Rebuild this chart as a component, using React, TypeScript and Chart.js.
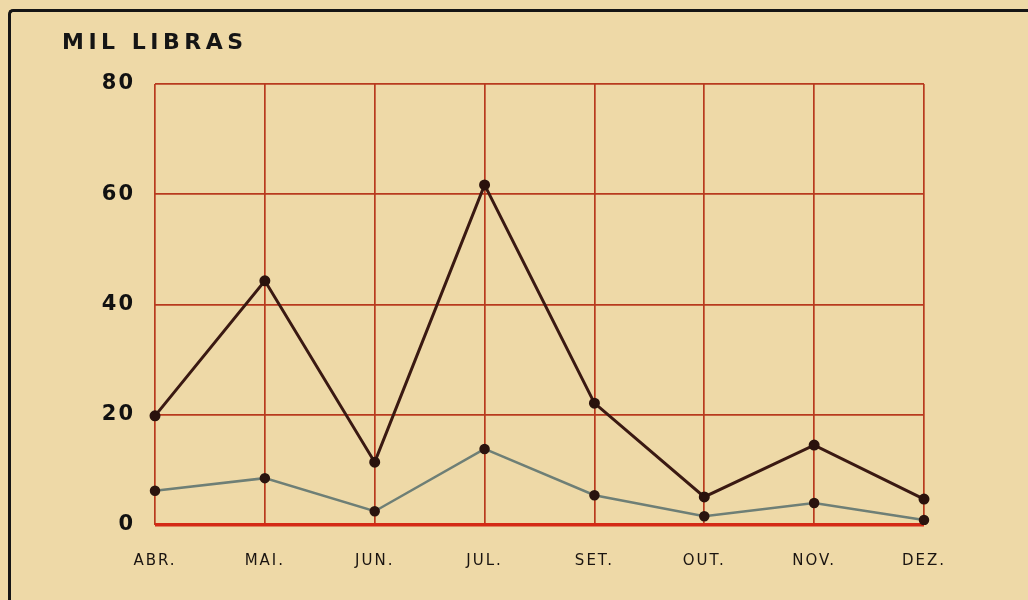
import React, { useEffect, useRef } from "react";
import { Chart, registerables } from "chart.js";

Chart.register(...registerables);

const months = ["ABR.", "MAI.", "JUN.", "JUL.", "SET.", "OUT.", "NOV.", "DEZ."];
const darkSeries = [19.8, 44.3, 11.4, 61.7, 22.1, 5.1, 14.5, 4.7];
const graySeries = [6.2, 8.5, 2.5, 13.8, 5.4, 1.6, 4.0, 0.9];
const yTicks = [0, 20, 40, 60, 80];
const yTitle = "MIL LIBRAS";

const spacingPlugin = {
  id: "letterSpacing",
  beforeDraw(chart: any) {
    chart.ctx.letterSpacing = "2px";
  },
  afterDraw(chart: any) {
    chart.ctx.letterSpacing = "0px";
  },
};

export default function App() {
  const ref = useRef<HTMLCanvasElement | null>(null);

  useEffect(() => {
    if (!ref.current) return;
    const chart = new Chart(ref.current, {
      type: "line",
      data: {
        labels: months,
        datasets: [
          {
            data: darkSeries,
            borderColor: "#3a1912",
            borderWidth: 3,
            pointRadius: 4,
            pointBackgroundColor: "#2a120d",
            pointBorderColor: "#2a120d",
            tension: 0,
          },
          {
            data: graySeries,
            borderColor: "#6e7f76",
            borderWidth: 2.5,
            pointRadius: 4,
            pointBackgroundColor: "#2a140f",
            pointBorderColor: "#2a140f",
            tension: 0,
          },
        ],
      },
      options: {
        animation: false,
        responsive: false,
        layout: { padding: { top: 84, right: 104, bottom: 0, left: 0 } },
        plugins: { legend: { display: false }, tooltip: { enabled: false }, title: { display: false } },
        scales: {
          x: {
            offset: false,
            border: { display: false },
            grid: { color: "#b83a1e", lineWidth: 1.7, drawTicks: false },
            ticks: {
              color: "#1a1410",
              padding: 27,
              maxRotation: 0,
              autoSkip: false,
              font: { family: "DejaVu Sans", size: 15 },
            },
            afterFit: (s: any) => {
              s.height = 75;
            },
          },
          y: {
            min: 0,
            max: 80,
            afterBuildTicks: (s: any) => {
              s.ticks = yTicks.map((v) => ({ value: v }));
            },
            border: { display: false },
            grid: {
              color: (c: any) => (c.tick && c.tick.value === 0 ? "#d42a16" : "#b83a1e"),
              lineWidth: (c: any) => (c.tick && c.tick.value === 0 ? 3.5 : 1.7),
              drawTicks: false,
            },
            ticks: {
              color: "#111",
              padding: 20,
              font: { family: "DejaVu Sans", size: 21, weight: "bold" },
            },
            afterFit: (s: any) => {
              s.width = 155;
            },
          },
        },
      },
      plugins: [spacingPlugin],
    });
    return () => chart.destroy();
  }, []);

  return (
    <div
      style={{
        position: "fixed",
        left: 0,
        top: 0,
        width: 1028,
        height: 600,
        background: "#eed9a7",
        overflow: "hidden",
      }}
    >
      <div
        style={{
          position: "absolute",
          left: 8,
          top: 9,
          width: 1100,
          height: 700,
          borderTop: "3px solid #151515",
          borderLeft: "3px solid #151515",
          borderTopLeftRadius: 5,
        }}
      />
      <canvas ref={ref} width={1028} height={600} style={{ position: "absolute", left: 0, top: 0 }} />
      <div
        style={{
          position: "absolute",
          left: 62,
          top: 29,
          fontFamily: "DejaVu Sans",
          fontWeight: "bold",
          fontSize: 22,
          letterSpacing: 4.5,
          color: "#151515",
          lineHeight: "26px",
          whiteSpace: "nowrap",
        }}
      >
        {yTitle}
      </div>
    </div>
  );
}
